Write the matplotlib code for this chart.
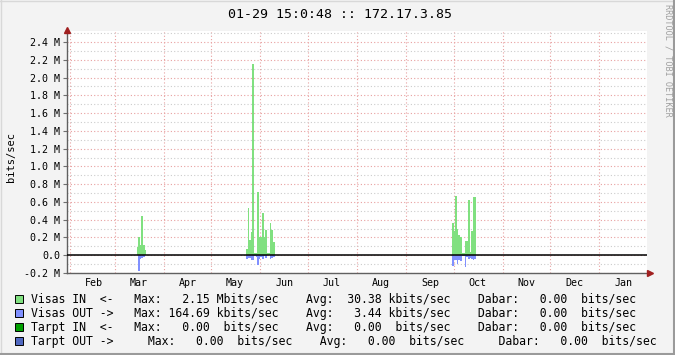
import numpy as np
import pandas as pd
import matplotlib
matplotlib.use("Agg")
import matplotlib.pyplot as plt
import matplotlib.dates as mdates
from matplotlib.lines import Line2D
from matplotlib.patches import Rectangle
from matplotlib.ticker import FixedLocator, FuncFormatter, MultipleLocator


# time window of the graph
x_start = "2014-01-30"
x_end = "2015-01-31"

# daily traffic, Mbits/sec (IN positive, OUT drawn below zero)
mar_start = "2014-03-15"
mar_in = [0.09, 0.21, 0.12, 0.44, 0.12, 0.06]
mar_out = [0.0, -0.18, -0.04, -0.03, -0.02, 0.0]

may_start = "2014-05-23"
may_in = [0.07, 0.53, 0.17, 0.26, 2.15, 0.03, 0.03, 0.71, 0.20, 0.20,
          0.47, 0.20, 0.28, 0.02, 0.02, 0.36, 0.28, 0.15]
may_out = [-0.04, -0.03, -0.03, -0.05, -0.05, -0.01, -0.02, -0.11, -0.04, -0.02,
           -0.04, -0.01, -0.03, 0.0, 0.0, -0.04, -0.03, -0.02]

oct_start = "2014-09-30"
oct_in = [0.36, 0.27, 0.67, 0.29, 0.23, 0.20, 0.03, 0.03, 0.16, 0.16,
          0.62, 0.04, 0.27, 0.65, 0.65]
oct_out = [-0.12, -0.05, -0.05, -0.10, -0.05, -0.06, -0.01, -0.01, -0.13, -0.02,
           -0.04, -0.03, -0.04, -0.05, -0.04]

month_labels = ["Feb", "Mar", "Apr", "May", "Jun", "Jul", "Aug", "Sep",
                "Oct", "Nov", "Dec", "Jan"]

series_colors = ["#80E080", "#8090FF", "#00A000", "#5068C0"]
legend_lines = [
    "Visas IN  <-   Max:   2.15 Mbits/sec    Avg:  30.38 kbits/sec    Dabar:   0.00  bits/sec",
    "Visas OUT ->   Max: 164.69 kbits/sec    Avg:   3.44 kbits/sec    Dabar:   0.00  bits/sec",
    "Tarpt IN  <-   Max:   0.00  bits/sec    Avg:   0.00  bits/sec    Dabar:   0.00  bits/sec",
    "Tarpt OUT ->     Max:   0.00  bits/sec    Avg:   0.00  bits/sec     Dabar:   0.00  bits/sec",
]

title = "01-29 15:0:48 :: 172.17.3.85"
mono = "DejaVu Sans Mono"
W, H = 675, 355


def fx(px):
    return px / W


def fy(py):
    return 1 - py / H


fig = plt.figure(figsize=(6.75, 3.55), dpi=100, facecolor="#F3F3F3")
ax = fig.add_axes([fx(67), fy(273), fx(647) - fx(67), fy(31) - fy(273)])
ax.set_facecolor("white")

red_grid = "#E8A0A0"
grey_grid = "#CCCCCC"
dots = (0, (1, 2))

ax.set_ylim(-0.2, 2.524)
ax.set_xlim(pd.Timestamp(x_start), pd.Timestamp(x_end))

ax.yaxis.set_major_locator(MultipleLocator(0.2))
ax.yaxis.set_minor_locator(MultipleLocator(0.1))
ax.yaxis.set_major_formatter(FuncFormatter(
    lambda v, p: "0.0" if abs(v) < 1e-9 else f"{v:.1f} M"))
ax.grid(axis="y", which="minor", color=grey_grid, ls=dots, lw=0.8)
ax.grid(axis="y", which="major", color=red_grid, ls=dots, lw=0.8)

month_starts = pd.date_range("2014-02-01", periods=12, freq="MS")
mid_months = month_starts + pd.Timedelta(days=15)
for m in month_starts:
    ax.axvline(m, color=red_grid, ls=dots, lw=0.8, zorder=0.5)
ax.xaxis.set_major_locator(FixedLocator(mdates.date2num(mid_months)))
ax.set_xticklabels(month_labels)
ax.tick_params(axis="x", length=0, pad=3.5, labelsize=7.2)
ax.tick_params(axis="y", which="major", length=3, color="#707070",
               labelsize=7.2, pad=2)
ax.tick_params(axis="y", which="minor", length=0)
for lbl in ax.get_xticklabels() + ax.get_yticklabels():
    lbl.set_family(mono)

# traffic, drawn as filled steps (one step per day)
clusters = [(mar_start, mar_in, mar_out),
            (may_start, may_in, may_out),
            (oct_start, oct_in, oct_out)]
for start, vin, vout in clusters:
    edges = mdates.date2num(pd.date_range(start, periods=len(vin) + 1, freq="D"))
    ax.stairs(vin, edges, fill=True, baseline=0, color=series_colors[0],
              lw=0, zorder=2)
    ax.stairs(vout, edges, fill=True, baseline=0, color=series_colors[1],
              lw=0, zorder=2)

ax.axhline(0, color="black", lw=1.1, zorder=3)

for side in ["top", "right"]:
    ax.spines[side].set_visible(False)
for side in ["left", "bottom"]:
    ax.spines[side].set_color("#606060")
    ax.spines[side].set_linewidth(1.0)

# axis arrows
ax.plot([0], [1.005], marker="^", color="#A02020", markersize=4.5,
        transform=ax.transAxes, clip_on=False, zorder=5)
ax.plot([1.005], [0], marker=">", color="#A02020", markersize=4.5,
        transform=ax.transAxes, clip_on=False, zorder=5)

# texts
fig.text(fx(340), fy(15), title, family=mono, fontsize=9.5,
         ha="center", va="center", color="black")
fig.text(fx(11), fy(157), "bits/sec", family=mono, fontsize=7.5,
         rotation=90, ha="center", va="center")
fig.text(fx(668), fy(60), "RRDTOOL / TOBI OETIKER", family=mono, fontsize=6.1,
         rotation=270, ha="center", va="center", color="#A0A0A0")

# legend
row_y = [299, 313, 327, 341]
for i, line in enumerate(legend_lines):
    fig.patches.append(Rectangle((fx(15), fy(row_y[i] + 4)), fx(8), fy(0) - fy(8),
                                 transform=fig.transFigure, facecolor=series_colors[i],
                                 edgecolor="black", linewidth=0.7))
    fig.text(fx(31), fy(row_y[i]), line, family=mono, fontsize=8.3,
             ha="left", va="center", color="black")

# border
fig.lines.append(Line2D([0, 1], [fy(0.5), fy(0.5)], transform=fig.transFigure,
                        color="#D8D8D8", lw=1))
fig.lines.append(Line2D([fx(0.5), fx(0.5)], [0, 1], transform=fig.transFigure,
                        color="#D8D8D8", lw=1))
fig.lines.append(Line2D([0, 1], [fy(354), fy(354)], transform=fig.transFigure,
                        color="#9A9A9A", lw=1.5))
fig.lines.append(Line2D([fx(674), fx(674)], [0, 1], transform=fig.transFigure,
                        color="#9A9A9A", lw=1.5))

fig.savefig("out.png", dpi=100, facecolor=fig.get_facecolor())
